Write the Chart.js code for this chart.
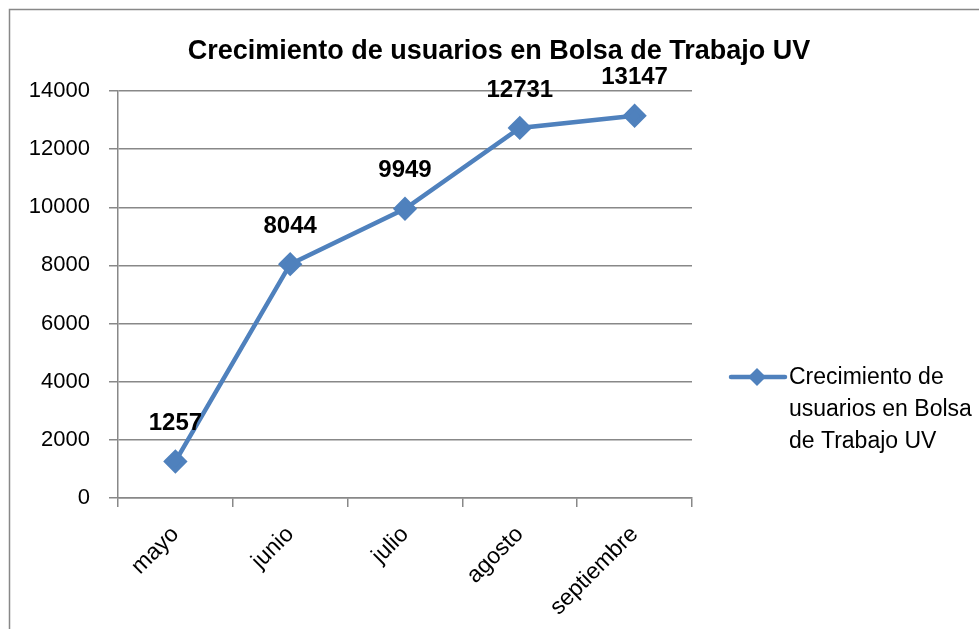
<!DOCTYPE html>
<html>
<head>
<meta charset="utf-8">
<script src="https://cdn.jsdelivr.net/npm/chart.js@4"></script>
<style>
  body { margin: 0; background: #fff; }
  canvas { display: block; }
</style>
</head>
<body>
<canvas id="myChart" width="979" height="629"></canvas>
<script>
const chartTitle = "Crecimiento de usuarios en Bolsa de Trabajo UV";
const months = ["mayo", "junio", "julio", "agosto", "septiembre"];
const users = [1257, 8044, 9949, 12731, 13147];
const legendLines = ["Crecimiento de", "usuarios en Bolsa", "de Trabajo UV"];

const fontFamily = "'Liberation Sans', Arial, sans-serif";
const lineColor = "#4F81BD";
const gridColor = "#888888";

// border, title, point labels and legend drawn by hand (Excel look)
const excelExtras = {
  id: "excelExtras",
  afterDraw(chart) {
    const ctx = chart.ctx;
    ctx.save();

    ctx.strokeStyle = gridColor;
    ctx.lineWidth = 1.5;
    ctx.strokeRect(9.5, 9.5, 1000, 1000);

    ctx.fillStyle = "#000";
    ctx.font = "bold 27px " + fontFamily;
    ctx.textAlign = "center";
    ctx.textBaseline = "middle";
    ctx.fillText(chartTitle, 499, 52);

    // value labels above each point
    const meta = chart.getDatasetMeta(0);
    ctx.font = "bold 24px " + fontFamily;
    meta.data.forEach((pt, i) => {
      ctx.fillText(String(users[i]), pt.x, pt.y - 38);
    });

    // legend
    ctx.strokeStyle = lineColor;
    ctx.lineWidth = 4.5;
    ctx.lineCap = "round";
    ctx.beginPath();
    ctx.moveTo(731, 377);
    ctx.lineTo(785, 377);
    ctx.stroke();
    ctx.fillStyle = lineColor;
    ctx.beginPath();
    ctx.moveTo(757, 368);
    ctx.lineTo(766, 377);
    ctx.lineTo(757, 386);
    ctx.lineTo(748, 377);
    ctx.closePath();
    ctx.fill();

    ctx.fillStyle = "#000";
    ctx.font = "23px " + fontFamily;
    ctx.textAlign = "left";
    legendLines.forEach((t, i) => {
      ctx.fillText(t, 789, 378 + i * 32);
    });

    ctx.restore();
  }
};

const ctx = document.getElementById("myChart").getContext("2d");

window.myChart = new Chart(ctx, {
  type: "line",
  data: {
    labels: months,
    datasets: [
      {
        label: legendLines.join(" "),
        data: users,
        borderColor: lineColor,
        backgroundColor: lineColor,
        borderWidth: 4.5,
        pointStyle: "rectRot",
        pointRadius: 9,
        pointHoverRadius: 9,
        tension: 0,
      },
    ],
  },
  options: {
    responsive: false,
    animation: false,
    layout: {
      padding: { left: 9, right: 287, top: 91, bottom: 0 },
    },
    plugins: {
      legend: { display: false },
      title: { display: false },
      tooltip: { enabled: false },
    },
    scales: {
      x: {
        offset: true,
        grid: {
          offset: true,
          drawOnChartArea: false,
          color: gridColor,
          tickLength: 9,
          lineWidth: 1.5,
        },
        border: { color: gridColor, width: 1.5 },
        ticks: {
          color: "#000",
          font: { family: fontFamily, size: 23 },
          minRotation: 45,
          maxRotation: 45,
          padding: 14,
        },
        afterFit(scale) {
          scale.height = 131;
        },
      },
      y: {
        min: 0,
        max: 14000,
        ticks: {
          stepSize: 2000,
          color: "#000",
          font: { family: fontFamily, size: 22 },
          padding: 19,
          callback: (v) => String(v),
        },
        grid: {
          color: gridColor,
          tickLength: 9,
          lineWidth: 1.5,
        },
        border: { color: gridColor, width: 1.5 },
        afterFit(scale) {
          scale.width = 109;
        },
      },
    },
  },
  plugins: [excelExtras],
});
</script>
</body>
</html>
